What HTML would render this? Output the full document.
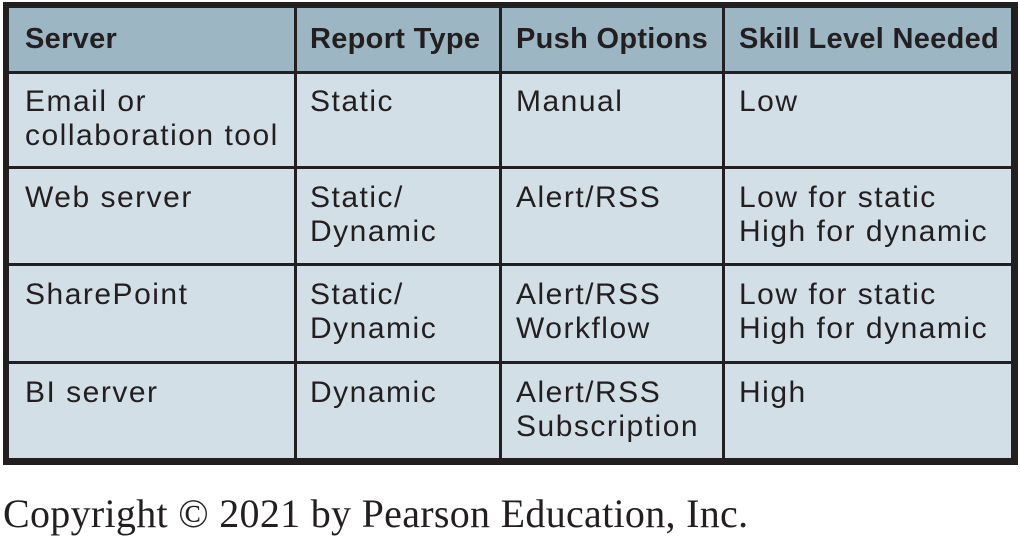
<!DOCTYPE html>
<html><head><meta charset="utf-8"><style>
body{margin:0;width:1020px;height:538px;background:#fff;position:relative;overflow:hidden;font-family:"Liberation Sans",sans-serif;}
.b{position:absolute;background:#231f20;}
.t{position:absolute;font-size:30px;line-height:34px;letter-spacing:1.5px;color:#231f20;white-space:nowrap;}
.h{font-weight:bold;font-size:29px;letter-spacing:0.3px;}
</style></head><body>
<div style="position:absolute;left:3px;top:2px;width:1015px;height:463px;background:#231f20"></div>
<div style="position:absolute;left:9px;top:8px;width:1002px;height:64px;background:#9cb6c4"></div>
<div style="position:absolute;left:9px;top:72px;width:1002px;height:386px;background:#d3dfe6"></div>
<div class="b" style="left:9px;top:71px;width:1002px;height:3px"></div>
<div class="b" style="left:9px;top:166px;width:1002px;height:3px"></div>
<div class="b" style="left:9px;top:263px;width:1002px;height:3px"></div>
<div class="b" style="left:9px;top:361px;width:1002px;height:3px"></div>
<div class="b" style="left:294px;top:8px;width:3px;height:450px"></div>
<div class="b" style="left:499px;top:8px;width:3px;height:450px"></div>
<div class="b" style="left:722px;top:8px;width:3px;height:450px"></div>

<div class="t h" style="left:25px;top:22px">Server</div>
<div class="t h" style="left:310px;top:22px">Report Type</div>
<div class="t h" style="left:516px;top:22px">Push Options</div>
<div class="t h" style="left:739px;top:22px">Skill Level Needed</div>

<div class="t" style="left:25px;top:85px">Email or<br>collaboration tool</div>
<div class="t" style="left:310px;top:85px">Static</div>
<div class="t" style="left:516px;top:85px">Manual</div>
<div class="t" style="left:739px;top:85px">Low</div>

<div class="t" style="left:25px;top:181px">Web server</div>
<div class="t" style="left:310px;top:181px">Static/<br>Dynamic</div>
<div class="t" style="left:516px;top:181px">Alert/RSS</div>
<div class="t" style="left:739px;top:181px">Low for static<br>High for dynamic</div>

<div class="t" style="left:25px;top:278px">SharePoint</div>
<div class="t" style="left:310px;top:278px">Static/<br>Dynamic</div>
<div class="t" style="left:516px;top:278px">Alert/RSS<br>Workflow</div>
<div class="t" style="left:739px;top:278px">Low for static<br>High for dynamic</div>

<div class="t" style="left:25px;top:376px">BI server</div>
<div class="t" style="left:310px;top:376px">Dynamic</div>
<div class="t" style="left:516px;top:376px">Alert/RSS<br>Subscription</div>
<div class="t" style="left:739px;top:376px">High</div>

<div style="position:absolute;left:3px;top:491px;font-family:'Liberation Serif',serif;font-size:40px;letter-spacing:0.3px;line-height:46px;color:#231f20;white-space:nowrap">Copyright © 2021 by Pearson Education, Inc.</div>
</body></html>
